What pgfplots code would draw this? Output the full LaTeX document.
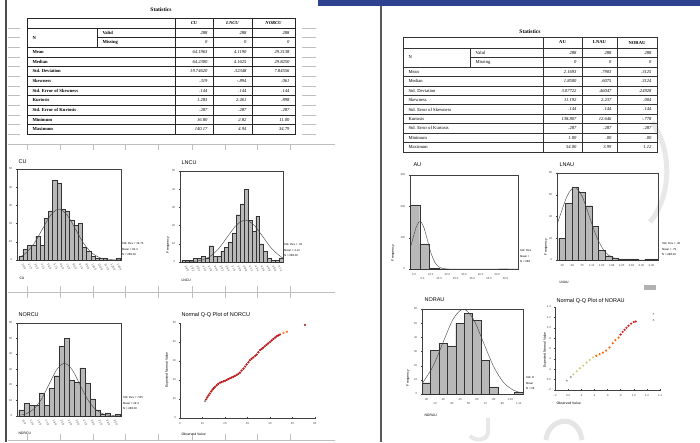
\documentclass[border=0pt]{standalone}
\usepackage{fontspec}
\setmainfont{Liberation Serif}
\setsansfont{Liberation Sans}
\usepackage{pgfplots}
\pgfplotsset{compat=1.18}
\definecolor{barfill}{HTML}{B8B8B8}
\definecolor{qqred}{HTML}{D42020}
\definecolor{topblue}{HTML}{2E4290}
\newcommand{\ticksz}{\sffamily\fontsize{2.8}{3.2}\selectfont}
\newcommand{\legsz}{\sffamily\fontsize{2.8}{5.8}\selectfont}
\newcommand{\titlesz}{\sffamily\fontsize{5.5}{6}\selectfont}
\newcommand{\labsz}{\sffamily\fontsize{3.4}{4}\selectfont}
\newcommand{\tabsz}{\rmfamily\fontsize{4.6}{5.2}\selectfont}
\pgfplotsset{
  spss/.style={
    scale only axis,
    tick label style={font=\ticksz, text=black!75},
    /pgf/number format/assume math mode=true,
    major tick length=1.2pt,
    tick align=outside,
    axis line style={line width=0.35pt, black!75},
    every tick/.style={black!75, line width=0.3pt},
    xtick pos=bottom, ytick pos=left,
  },
  bars/.style={ybar, bar width=1, fill=barfill, draw=black!80, line width=0.25pt},
  ncurve/.style={black!75, line width=0.4pt, smooth, tension=0.5},
}
\begin{document}
\begin{tikzpicture}
\useasboundingbox (0pt,0pt) rectangle (700pt,-442pt);
\fill[white] (0pt,0pt) rectangle (700pt,-442pt);
\fill[topblue] (318pt,0pt) rectangle (700pt,-6pt);
\draw[black!65, line width=1.4pt] (381pt,-6pt) -- (381pt,-442pt);
\draw[black!70, line width=1.2pt] (6pt,0pt) -- (6pt,-442pt);

% faint page grid lines (left page)
\begin{scope}[black!25, line width=0.4pt]
\draw (8pt,-144pt) -- (335pt,-144pt);
\draw (8pt,-292pt) -- (335pt,-292pt);
\draw (8pt,-440pt) -- (335pt,-440pt);
\foreach \x in {27,60,93,125,158,192,225,257,290}{
  \draw (\x pt,-144pt) -- (\x pt,-150pt);
  \draw (\x pt,-286pt) -- (\x pt,-298pt);
  \draw (\x pt,-434pt) -- (\x pt,-440pt);
}
\foreach \k in {0,...,11}{
  \pgfmathsetmacro\yy{-(28+9.65*\k)}
  \draw (8pt,\yy pt) -- (20pt,\yy pt);
  \draw (302pt,\yy pt) -- (316pt,\yy pt);
}
\end{scope}

% faint watermark strokes
\draw[black!9, line width=5pt] (652pt,-122pt) .. controls (672pt,-150pt) and (672pt,-195pt) .. (650pt,-222pt);
\draw[black!10, line width=5pt] (546pt,-440pt) .. controls (548pt,-418pt) and (578pt,-412pt) .. (582pt,-440pt);
\draw[black!9, line width=4pt] (488pt,-418pt) -- (488pt,-432pt) .. controls (488pt,-440pt) and (476pt,-442pt) .. (470pt,-436pt);

%================ LEFT TABLE =================
\node[font=\rmfamily\bfseries\fontsize{5.5}{6}\selectfont] at (161pt,-10pt) {Statistics};
\begin{scope}[black!85]
\draw[line width=0.9pt] (27pt,-18pt) rectangle (295pt,-134.15pt);
\draw[line width=0.6pt] (27pt,-28pt) -- (295pt,-28pt);
\draw[line width=0.35pt] (97pt,-37.65pt) -- (295pt,-37.65pt);
\foreach \k in {2,...,10}{\pgfmathsetmacro\yy{-(28+9.65*\k)}\draw[line width=0.5pt] (27pt,\yy pt) -- (295pt,\yy pt);}
\foreach \x in {175,213,252}{\draw[line width=0.5pt] (\x pt,-18pt) -- (\x pt,-134.15pt);}
\draw[line width=0.4pt] (97pt,-28pt) -- (97pt,-47.3pt);
\end{scope}
\node[font=\tabsz\bfseries\itshape] at (194pt,-23pt) {CU};
\node[font=\tabsz\bfseries\itshape] at (232.5pt,-23pt) {LNCU};
\node[font=\tabsz\bfseries\itshape] at (273.5pt,-23pt) {NORCU};
\node[font=\tabsz\bfseries, anchor=west] at (29pt,-37.65pt) {N};
\node[font=\tabsz\bfseries, anchor=west] at (99pt,-32.8pt) {Valid};
\node[font=\tabsz\bfseries, anchor=west] at (99pt,-42.5pt) {Missing};
\foreach \i/\lab in {2/Mean,3/Median,4/Std. Deviation,5/Skewness,6/Std. Error of Skewness,7/Kurtosis,8/Std. Error of Kurtosis,9/Minimum,10/Maximum}{
  \pgfmathsetmacro\yy{-(28+9.65*(\i+0.5))}
  \node[font=\tabsz\bfseries, anchor=west] at (29pt,\yy pt) {\lab};
}
\foreach \i/\a/\b/\c in {0/288/288/288,1/0/0/0,2/64.1963/4.1190/29.3138,3/64.2300/4.1625/29.8250,4/19.74620/.32348/7.84556,5/.319/-.894/.061,6/.144/.144/.144,7/1.283/2.461/.898,8/.287/.287/.287,9/16.80/2.82/11.00,10/140.17/4.94/34.79}{
  \pgfmathsetmacro\yy{-(28+9.65*(\i+0.5))}
  \node[font=\tabsz\itshape, anchor=east] at (211pt,\yy pt) {\a};
  \node[font=\tabsz\itshape, anchor=east] at (250pt,\yy pt) {\b};
  \node[font=\tabsz\itshape, anchor=east] at (293pt,\yy pt) {\c};
}

%================ RIGHT TABLE =================
\node[font=\rmfamily\bfseries\fontsize{5.5}{6}\selectfont] at (530pt,-32pt) {Statistics};
\begin{scope}[black!80]
\draw[line width=0.8pt] (403pt,-37pt) rectangle (657pt,-151.95pt);
\draw[line width=0.6pt] (403pt,-48pt) -- (657pt,-48pt);
\draw[line width=0.35pt] (470pt,-57.45pt) -- (657pt,-57.45pt);
\foreach \k in {2,...,10}{\pgfmathsetmacro\yy{-(48+9.45*\k)}\draw[line width=0.45pt] (403pt,\yy pt) -- (657pt,\yy pt);}
\foreach \x in {543,582,617}{\draw[line width=0.5pt] (\x pt,-37pt) -- (\x pt,-151.95pt);}
\draw[line width=0.4pt] (470pt,-48pt) -- (470pt,-66.9pt);
\end{scope}
\node[font=\tabsz\bfseries] at (562.5pt,-42.5pt) {AU};
\node[font=\tabsz\bfseries] at (599.5pt,-42.5pt) {LNAU};
\node[font=\tabsz\bfseries] at (637pt,-42.5pt) {NORAU};
\node[font=\tabsz, anchor=west] at (405pt,-57.45pt) {N};
\node[font=\tabsz, anchor=west] at (472pt,-52.7pt) {Valid};
\node[font=\tabsz, anchor=west] at (472pt,-62.2pt) {Missing};
\foreach \i/\lab in {2/Mean,3/Median,4/Std. Deviation,5/Skewness,6/Std. Error of Skewness,7/Kurtosis,8/Std. Error of Kurtosis,9/Minimum,10/Maximum}{
  \pgfmathsetmacro\yy{-(48+9.45*(\i+0.5))}
  \node[font=\tabsz, anchor=west] at (405pt,\yy pt) {\lab};
}
\foreach \i/\a/\b/\c in {0/288/288/288,1/0/0/0,2/2.1693/.7903/.3125,3/1.8500/.6075/.3124,4/3.07722/.46047/.24928,5/11.192/2.237/.004,6/.144/.144/.144,7/138.807/12.646/-.778,8/.287/.287/.287,9/1.00/.00/.00,10/54.00/3.99/1.12}{
  \pgfmathsetmacro\yy{-(48+9.45*(\i+0.5))}
  \node[font=\tabsz\itshape, anchor=east] at (580pt,\yy pt) {\a};
  \node[font=\tabsz\itshape, anchor=east] at (615pt,\yy pt) {\b};
  \node[font=\tabsz\itshape, anchor=east] at (655pt,\yy pt) {\c};
}

%================ CU HISTOGRAM =================
\node[font=\titlesz, anchor=west] at (15pt,-162pt) {CU};
\begin{axis}[spss, at={(17pt,-260pt)}, anchor=south west, width=104pt, height=91pt,
  xmin=-0.9, xmax=23.66, ymin=0, ymax=50, ytick={0,10,...,50},
  xtick={0,1.5,...,22.5},
  xticklabels={20.0,27.5,35.0,42.5,50.0,57.5,65.0,72.5,80.0,87.5,95.0,102.5,110.0,117.5,125.0,132.5},
  xticklabel style={rotate=-60, anchor=west}]
\addplot[bars] coordinates {(0,2) (1,6) (2,8) (3,8) (4,13) (5,8) (6,23) (7,27) (8,44) (9,42) (10,28) (11,27) (12,22) (13,19) (14,20) (15,7) (16,5) (17,2) (18,1) (19,1) (20,1) (23,1)};
\addplot[ncurve] coordinates {(0.2,2.2) (1.2,3.8) (3.15,9.1) (5.1,17) (7.05,24.7) (9,28) (10.95,24.7) (12.9,17) (14.85,9.1) (16.8,3.8) (18.75,1.2) (20.7,0.3) (22.65,0.1) (23.66,0)};
\end{axis}
\node[font=\legsz, anchor=north west, align=left, inner sep=0pt] at (122pt,-242pt) {Std. Dev = 19.75\\Mean = 64.2\\N = 288.00};
\node[font=\labsz, anchor=west] at (16pt,-278pt) {CU};

%================ LNCU HISTOGRAM =================
\node[font=\titlesz, anchor=west] at (178pt,-163pt) {LNCU};
\begin{axis}[spss, at={(180pt,-262pt)}, anchor=south west, width=103pt, height=91pt,
  xmin=-0.93, xmax=25.5, ymin=0, ymax=50, ytick={0,10,...,50},
  xtick={0,1.5,...,24},
  xticklabels={2.80,2.92,3.04,3.16,3.28,3.40,3.52,3.64,3.76,3.88,4.00,4.12,4.24,4.36,4.48,4.60,4.72},
  xticklabel style={rotate=-60, anchor=west}]
\addplot[bars] coordinates {(0,1) (1,1) (2,1) (3,2) (4,2) (5,3) (6,2) (7,9) (8,3) (9,3) (10,6) (11,8) (12,11) (13,16) (14,26) (15,32) (16,40) (17,23) (18,17) (19,25) (20,10) (21,6) (22,2) (23,1) (24,1) (25,2)};
\addplot[ncurve] coordinates {(0.5,0.1) (2.3,0.3) (4.55,1) (6.8,3.1) (9.05,7.5) (11.3,14) (13.55,20.3) (15.8,23) (18.05,20.3) (20.3,14) (22.55,7.5) (24.8,3.1) (25.5,2.3)};
\end{axis}
\node[font=\labsz, rotate=90] at (168pt,-245pt) {Frequency};
\node[font=\legsz, anchor=north west, align=left, inner sep=0pt] at (284pt,-243pt) {Std. Dev = .32\\Mean = 4.12\\N = 288.00};
\node[font=\labsz, anchor=west] at (178pt,-280pt) {LNCU};

%================ NORCU HISTOGRAM =================
\node[font=\titlesz, anchor=west] at (15pt,-315pt) {NORCU};
\begin{axis}[spss, at={(17pt,-416pt)}, anchor=south west, width=104pt, height=93pt,
  xmin=-0.83, xmax=19.63, ymin=0, ymax=60, ytick={0,10,...,60},
  xtick={0,1.5,...,18},
  xticklabels={11.0,13.0,15.0,17.0,19.0,21.0,23.0,25.0,27.0,29.0,31.0,33.0,35.0},
  xticklabel style={rotate=-60, anchor=west}]
\addplot[bars] coordinates {(0,4) (1,8) (2,7) (3,7) (4,15) (5,7) (6,18) (7,26) (8,45) (9,50) (10,23) (11,22) (12,31) (13,21) (14,11) (15,4) (16,1) (17,2) (19,1)};
\addplot[ncurve] coordinates {(0.1,0.7) (1,1.5) (2.5,4.6) (4,11) (5.5,20.6) (7,30) (8.5,34) (10,30) (11.5,20.6) (13,11) (14.5,4.6) (16,1.5) (17.5,0.4) (19,0.1) (19.63,0)};
\end{axis}
\node[font=\legsz, anchor=north west, align=left, inner sep=0pt] at (123pt,-396pt) {Std. Dev = 7.85\\Mean = 29.3\\N = 288.00};
\node[font=\labsz, anchor=west] at (15pt,-433pt) {NORCU};

%================ Q-Q NORCU =================
\node[font=\titlesz, anchor=west] at (178pt,-315pt) {Normal Q-Q Plot of NORCU};
\begin{axis}[spss, at={(180pt,-418pt)}, anchor=south west, width=135pt, height=95pt,
  xmin=0, xmax=60, ymin=0, ymax=50, xtick={0,10,...,60}, ytick={0,10,...,50},
  axis lines=left, axis line style={-}]
\addplot[only marks, mark=*, mark size=0.9pt, black!45] coordinates {(11.1,8.8)};
\addplot[only marks, mark=*, mark size=0.95pt, qqred, mark options={draw=qqred!85!black, fill=qqred}] coordinates {
(11.6,9.8) (12.1,10.9) (12.7,11.9) (13.3,12.9) (13.9,14.0) (14.5,15.0) (15.0,15.7) (15.6,16.4)
(16.3,17.2) (17.0,18.0) (17.8,18.6) (18.5,18.9) (19.3,19.3) (20.0,19.6) (20.7,20.0) (21.5,20.5)
(22.2,20.9) (22.9,21.3) (23.7,21.7) (24.4,22.1) (25.2,22.7) (26.0,23.3) (26.7,23.9) (27.4,25.0)
(28.2,26.0) (28.9,27.1) (29.6,28.2) (30.4,29.3) (31.1,30.4) (31.8,31.2) (32.6,31.9) (33.4,32.7)
(34.1,33.4) (34.8,34.6) (35.6,35.8) (36.3,36.4) (37.0,37.0) (37.7,37.8) (38.5,38.6) (39.2,39.3)
(40.0,40.0) (40.7,40.8) (41.5,41.6) (42.2,42.3) (42.9,43.0) (43.7,43.5) (44.4,43.9)};
\addplot[only marks, mark=o, mark size=0.9pt, orange!80!red] coordinates {(46.0,44.8) (47.5,45.4)};
\addplot[only marks, mark=x, mark size=1.1pt, qqred!70!black] coordinates {(55.5,49)};
\end{axis}
\node[font=\labsz, rotate=90] at (167pt,-370pt) {Expected Normal Value};
\node[font=\labsz, anchor=west] at (178pt,-434pt) {Observed Value};

%================ AU HISTOGRAM =================
\node[font=\titlesz, anchor=west] at (410pt,-165pt) {AU};
\begin{axis}[spss, at={(410pt,-269pt)}, anchor=south west, width=108pt, height=94pt,
  xmin=-2.5, xmax=62.5, ymin=0, ymax=300, ytick={0,100,200,300},
  xtick={0,10,...,50}, xticklabels={0.0,10.0,20.0,30.0,40.0,50.0},
  extra x ticks={5,15,...,55}, extra x tick labels={5.0,15.0,25.0,35.0,45.0,55.0},
  extra x tick style={xticklabel style={yshift=-3.5pt}}]
\addplot[bars, bar width=5.8] coordinates {(0.4,205) (6.2,80) (12.0,2) (17.8,1) (53.8,1)};
\addplot[ncurve] coordinates {(-2.5,65) (-1,92) (1.25,134) (3.5,152) (5.75,134) (8,92) (10.25,49) (12.5,21) (14.75,7) (17,1.7) (19.25,0.3) (21.5,0) (62.5,0)};
\end{axis}
\node[font=\labsz, rotate=90] at (393pt,-253pt) {Frequency};
\node[font=\legsz, anchor=north west, align=left, inner sep=0pt] at (520pt,-249pt) {Std. Dev\\Mean =\\N = 288};

%================ LNAU HISTOGRAM =================
\node[font=\titlesz, anchor=west] at (556pt,-165pt) {LNAU};
\begin{axis}[spss, at={(557pt,-260pt)}, anchor=south west, width=101pt, height=87pt,
  xmin=-0.75, xmax=14.5, ymin=0, ymax=80, ytick={0,20,...,80},
  xtick={0,1.5,...,13.5},
  xticklabels={.00,.38,.75,1.13,1.50,1.88,2.25,2.63,3.00,3.38}]
\addplot[bars] coordinates {(0,20) (1,52) (2,67) (3,62) (4,50) (5,31) (6,9) (7,4) (8,2) (9,1) (10,1) (11,1) (13,1) (14,1)};
\addplot[ncurve] coordinates {(-0.74,32.6) (-0.3,40.6) (0.8,59.1) (1.9,67) (3,59.1) (4.1,40.6) (5.2,21.8) (6.3,9.1) (7.4,2.9) (8.5,0.7) (9.6,0.15) (10.7,0) (14.5,0)};
\end{axis}
\node[font=\labsz, rotate=90] at (546pt,-247pt) {Frequency};
\node[font=\legsz, anchor=north west, align=left, inner sep=0pt] at (662pt,-242pt) {Std. Dev = .46\\Mean = .79\\N = 288.00};
\node[font=\labsz, anchor=west] at (556pt,-282pt) {LNAU};
\fill[black!30] (644pt,-285pt) rectangle (656pt,-290pt);

%================ NORAU HISTOGRAM =================
\node[font=\titlesz, anchor=west] at (421pt,-300pt) {NORAU};
\begin{axis}[spss, at={(422pt,-394pt)}, anchor=south west, width=101pt, height=85pt,
  xmin=-0.5, xmax=11.5, ymin=0, ymax=60, ytick={0,10,...,60},
  xtick={0,2,...,10}, xticklabels={.00,.20,.40,.60,.80,1.00},
  extra x ticks={1,3,...,11}, extra x tick labels={.10,.30,.50,.70,.90,1.10},
  extra x tick style={xticklabel style={yshift=-3.5pt}}]
\addplot[bars] coordinates {(0,8) (1,31) (2,36) (3,34) (4,50) (5,57) (6,52) (7,24) (8,5) (11,1)};
\addplot[ncurve] coordinates {(-0.4,8.1) (0.8,19.5) (2,36.4) (3.2,52.9) (4.4,60) (5.6,52.9) (6.8,36.4) (8,19.5) (9.2,8.1) (10.4,2.6) (11.5,0.7)};
\end{axis}
\node[font=\labsz, rotate=90] at (408pt,-378pt) {Frequency};
\node[font=\legsz, anchor=north west, align=left, inner sep=0pt] at (526pt,-376pt) {Std. D\\Mean\\N = 28};
\node[font=\labsz, anchor=west] at (421pt,-415pt) {NORAU};

%================ Q-Q NORAU =================
\node[font=\titlesz, anchor=west] at (553pt,-301pt) {Normal Q-Q Plot of NORAU};
\begin{axis}[spss, at={(555pt,-390pt)}, anchor=south west, width=105pt, height=83pt,
  xmin=-0.2, xmax=1.4, ymin=-0.2, ymax=1.4,
  xtick={-0.2,0,...,1.4}, ytick={-0.2,0,...,1.4},
  xticklabels={-.2,0.0,.2,.4,.6,.8,1.0,1.2,1.4},
  yticklabels={-.2,0.0,.2,.4,.6,.8,1.0,1.2,1.4},
  axis lines=left, axis line style={-}]
\addplot[only marks, mark=*, mark size=0.8pt, black!35] coordinates {(-0.02,-0.02) (0.04,0.05)};
\addplot[only marks, mark=*, mark size=0.8pt, olive!45!white] coordinates {(0.08,0.10) (0.13,0.16) (0.18,0.22) (0.23,0.27) (0.28,0.33) (0.33,0.38) (0.38,0.43)};
\addplot[only marks, mark=*, mark size=0.85pt, orange!75!red] coordinates {(0.43,0.46) (0.48,0.49) (0.53,0.52) (0.58,0.56) (0.63,0.62) (0.68,0.70) (0.72,0.76) (0.77,0.81)};
\addplot[only marks, mark=*, mark size=0.9pt, qqred] coordinates {(0.80,0.87) (0.83,0.92) (0.86,0.96) (0.89,1.00) (0.92,1.04) (0.96,1.08) (1.00,1.11) (1.03,1.12)};
\addplot[only marks, mark=x, mark size=1pt, black!40] coordinates {(1.30,1.27) (1.30,1.15)};
\end{axis}
\node[font=\labsz, rotate=90] at (545pt,-350pt) {Expected Normal Value};
\node[font=\labsz, anchor=west] at (553pt,-403pt) {Observed Value};
\end{tikzpicture}
\end{document}
